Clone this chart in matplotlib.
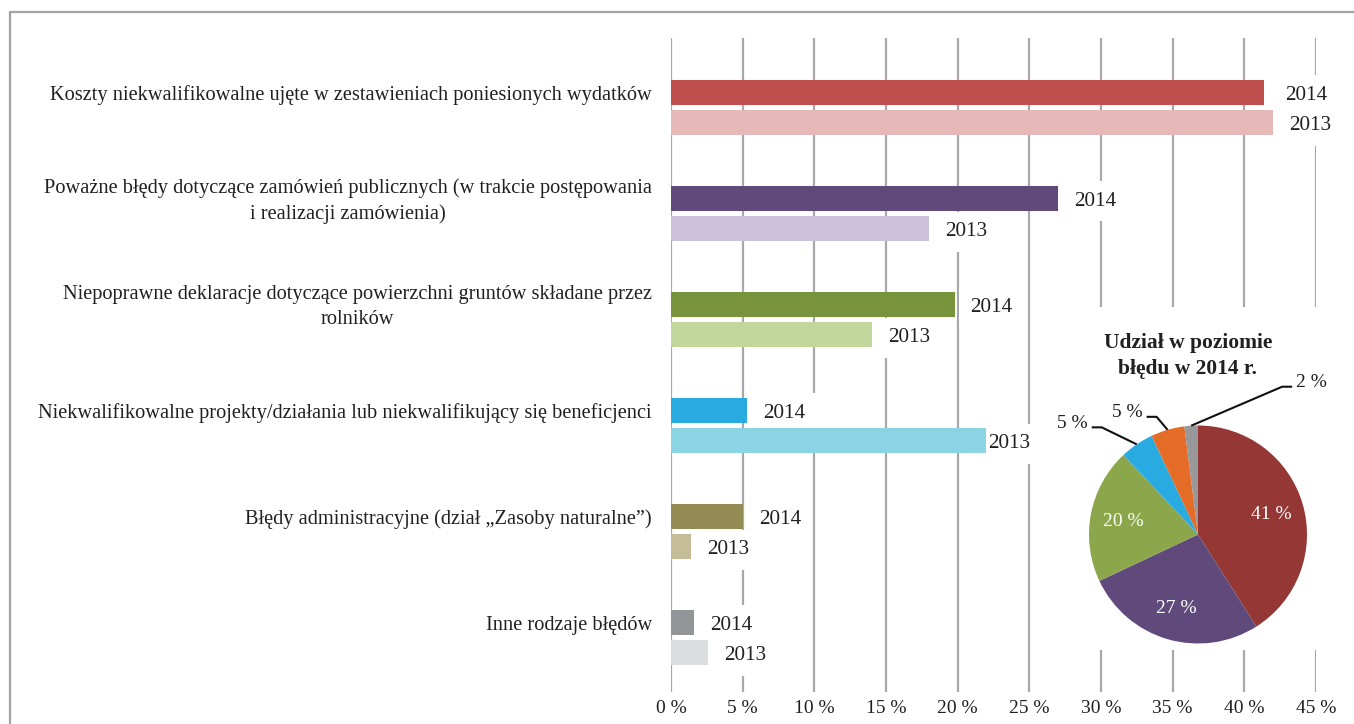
import numpy as np
import matplotlib
matplotlib.use("Agg")
import matplotlib.pyplot as plt
from matplotlib.lines import Line2D

plt.rcParams['font.family'] = ['Liberation Serif', 'DejaVu Serif']

# ---------------- data ----------------
categories = [
    "Koszty niekwalifikowalne ujęte w zestawieniach poniesionych wydatków",
    "Poważne błędy dotyczące zamówień publicznych (w trakcie postępowania\ni realizacji zamówienia)",
    "Niepoprawne deklaracje dotyczące powierzchni gruntów składane przez\nrolników",
    "Niekwalifikowalne projekty/działania lub niekwalifikujący się beneficjenci",
    "Błędy administracyjne (dział „Zasoby naturalne”)",
    "Inne rodzaje błędów",
]
values_2014 = [41.4, 27.0, 19.8, 5.3, 5.0, 1.6]
values_2013 = [42.0, 18.0, 14.0, 22.0, 1.4, 2.6]
colors_2014 = ["#C0504D", "#604A7B", "#77933C", "#29ABE2", "#948A54", "#939598"]
colors_2013 = ["#E6B9B8", "#CCC1DA", "#C3D69B", "#8AD4E3", "#C4BD97", "#DCDDDE"]
year_labels = ["2014", "2013"]
xticks = [0, 5, 10, 15, 20, 25, 30, 35, 40, 45]
xtick_labels = [f"{v} %" for v in xticks]

pie_title = "Udział w poziomie\nbłędu w 2014 r."
pie_values = [41, 27, 20, 5, 5, 2]
pie_colors = ["#953735", "#604A7B", "#8CA64B", "#29ABE2", "#E46C27", "#98989A"]
pie_labels = [f"{v} %" for v in pie_values]

TXT = "#231F20"
GRID = "#A7A8AB"

# layout: pixel gap between bar end and its year label
gap_2014 = [21, 16, 15, 16, 16, 16]
gap_2013 = [16, 16, 16, 2, 16, 16]

W, H = 1354, 724
fig = plt.figure(figsize=(W / 100, H / 100), dpi=100)

# frame border (left and top)
fig.add_artist(Line2D([10 / W, 10 / W, 1.0], [0, 1 - 12 / H, 1 - 12 / H],
                      transform=fig.transFigure, color="#A3A3A3", lw=1.6))

# ---------------- bar chart ----------------
ax = fig.add_axes([671 / W, 1 - 692 / H, (1316 - 671) / W, (692 - 38) / H])
n = len(categories)
y14 = np.arange(n)
off = 0.29
y13 = y14 + off
bh = 0.236

ax.barh(y14, values_2014, height=bh, color=colors_2014, zorder=3)
ax.barh(y13, values_2013, height=bh, color=colors_2013, zorder=3)

ax.set_xlim(0, 45)
ax.set_ylim(5.66, -0.51)
ax.set_xticks(xticks)
ax.set_xticklabels(xtick_labels)
ax.set_yticks([])
ax.xaxis.grid(True, color=GRID, lw=1.6, zorder=0)
ax.set_axisbelow(True)
for s in ax.spines.values():
    s.set_visible(False)
ax.tick_params(axis="x", length=0, pad=6, labelsize=14, labelcolor=TXT)

for i, cat in enumerate(categories):
    ax.annotate(cat, xy=(0, y14[i]), xytext=(-19, -3), textcoords="offset pixels",
                ha="right", va="center", multialignment="center",
                fontsize=14.7, color=TXT, linespacing=1.45, annotation_clip=False)

for vals, ys, lab, gaps in [(values_2014, y14, year_labels[0], gap_2014),
                            (values_2013, y13, year_labels[1], gap_2013)]:
    for v, yy, g in zip(vals, ys, gaps):
        ax.annotate(lab, xy=(v, yy), xytext=(g, -3), textcoords="offset pixels",
                    ha="left", va="center", fontsize=15.2, color=TXT, zorder=2,
                    bbox=dict(boxstyle="square,pad=0.5", fc="white", ec="none"),
                    annotation_clip=False)

# ---------------- pie chart ----------------
px0, px1, py0, py1 = 1045, 1354, 307, 650
axp = fig.add_axes([px0 / W, 1 - py1 / H, (px1 - px0) / W, (py1 - py0) / H], zorder=5)
cx, cy, r = 1198, H - 534.5, 109
axp.pie(pie_values, colors=pie_colors, startangle=90, counterclock=False,
        center=(cx, cy), radius=r, frame=True,
        wedgeprops=dict(linewidth=0))
axp.set_aspect("auto")
axp.set_xlim(px0, px1)
axp.set_ylim(H - py1, H - py0)
axp.set_facecolor("white")
axp.set_xticks([])
axp.set_yticks([])
for s in axp.spines.values():
    s.set_visible(False)

axp.text(1188, H - 356, pie_title, ha="center", va="center", fontsize=15.5,
         fontweight="bold", color=TXT, linespacing=1.45)

cum = np.cumsum([0] + pie_values)
total = cum[-1]
mids = [90 - (cum[k] + pie_values[k] / 2) / total * 360 for k in range(len(pie_values))]

# inside labels
for k in range(3):
    a = np.deg2rad(mids[k])
    axp.text(cx + 0.70 * r * np.cos(a), cy + 0.70 * r * np.sin(a) - 1, pie_labels[k],
             ha="center", va="center", color="white", fontsize=14)

# outside labels with leader lines: (elbow dx, elbow dy, horizontal run)
leaders = {3: (-35, 17, -10), 4: (-11, 13, -10), 5: (91, 39, 10)}
for k, (dx, dy, run) in leaders.items():
    a = np.deg2rad(mids[k])
    x0, y0 = cx + r * np.cos(a), cy + r * np.sin(a)
    xe, ye = x0 + dx, y0 + dy
    xh = xe + run
    axp.plot([x0, xe, xh], [y0, ye, ye], color="#111111", lw=1.5, solid_capstyle="butt")
    if run < 0:
        axp.text(xh - 4, ye + 4, pie_labels[k], ha="right", va="center",
                 fontsize=14, color=TXT)
    else:
        axp.text(xh + 4, ye + 4, pie_labels[k], ha="left", va="center",
                 fontsize=14, color=TXT)

fig.savefig("out.png", dpi=100, facecolor="white")
